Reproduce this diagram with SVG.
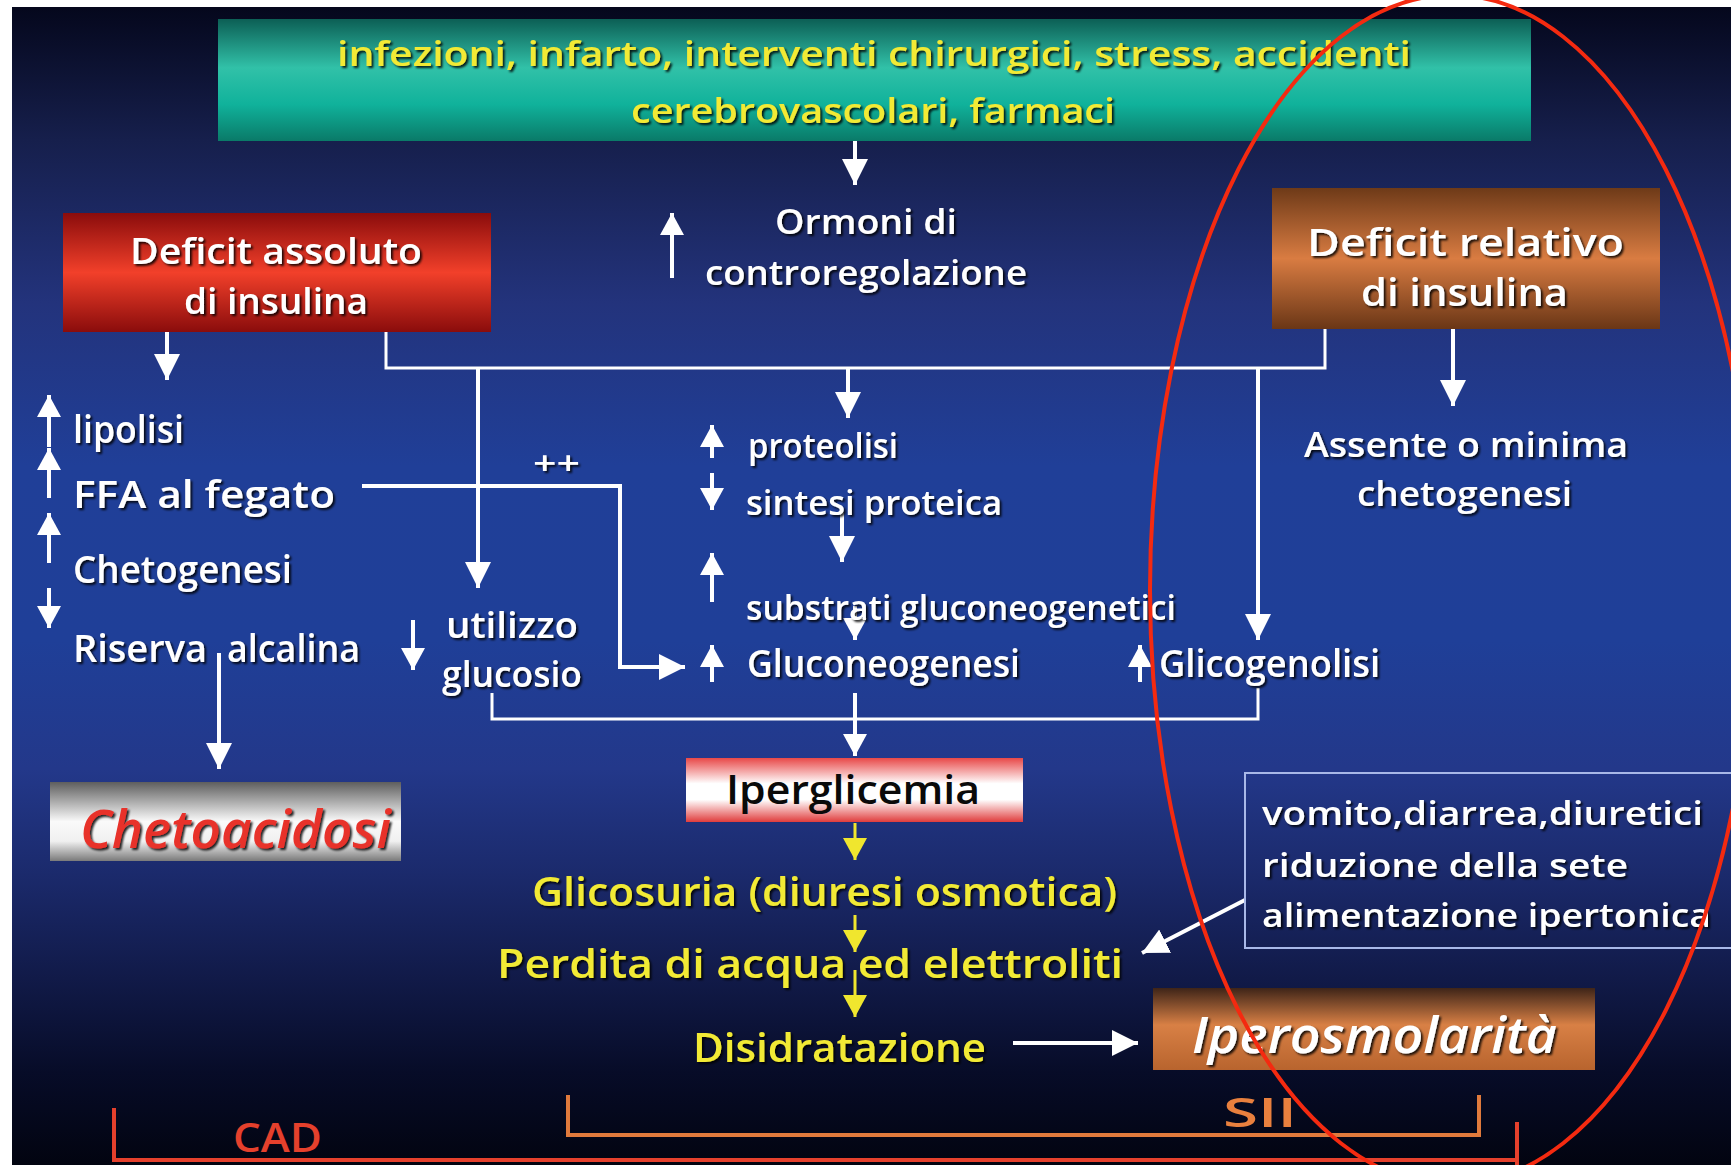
<svg xmlns="http://www.w3.org/2000/svg" width="1731" height="1165" viewBox="0 0 1731 1165">
<defs>
<linearGradient id="bg" x1="0" y1="0" x2="0" y2="1">
<stop offset="0" stop-color="#04061a"/>
<stop offset="0.12" stop-color="#161f4c"/>
<stop offset="0.26" stop-color="#23337c"/>
<stop offset="0.40" stop-color="#203f98"/>
<stop offset="0.55" stop-color="#1f3f98"/>
<stop offset="0.66" stop-color="#23388a"/>
<stop offset="0.75" stop-color="#1b2a6c"/>
<stop offset="0.84" stop-color="#111a48"/>
<stop offset="0.92" stop-color="#070c28"/>
<stop offset="1" stop-color="#020410"/>
</linearGradient>
<linearGradient id="gTeal" x1="0" y1="0" x2="0" y2="1">
<stop offset="0" stop-color="#0c5f55"/>
<stop offset="0.4" stop-color="#31c1a8"/>
<stop offset="0.7" stop-color="#10b29b"/>
<stop offset="1" stop-color="#0a7a68"/>
</linearGradient>
<linearGradient id="gRed" x1="0" y1="0" x2="0" y2="1">
<stop offset="0" stop-color="#8a0c0c"/>
<stop offset="0.5" stop-color="#f2402a"/>
<stop offset="1" stop-color="#8a0c0c"/>
</linearGradient>
<linearGradient id="gBrown" x1="0" y1="0" x2="0" y2="1">
<stop offset="0" stop-color="#6e3a18"/>
<stop offset="0.5" stop-color="#d97c42"/>
<stop offset="1" stop-color="#6a3616"/>
</linearGradient>
<linearGradient id="gGrey" x1="0" y1="0" x2="0" y2="1">
<stop offset="0" stop-color="#5e5e5e"/>
<stop offset="0.5" stop-color="#fafafa"/>
<stop offset="0.75" stop-color="#f0f0f0"/>
<stop offset="1" stop-color="#7a7a7a"/>
</linearGradient>
<linearGradient id="gPink" x1="0" y1="0" x2="0" y2="1">
<stop offset="0" stop-color="#e84848"/>
<stop offset="0.4" stop-color="#ffffff"/>
<stop offset="0.65" stop-color="#ffffff"/>
<stop offset="1" stop-color="#e03c3c"/>
</linearGradient>
<linearGradient id="gOrange" x1="0" y1="0" x2="0" y2="1">
<stop offset="0" stop-color="#3e2418"/>
<stop offset="0.45" stop-color="#d88045"/>
<stop offset="1" stop-color="#b8642e"/>
</linearGradient>
<filter id="sh" x="-5%" y="-20%" width="110%" height="140%">
<feDropShadow dx="2" dy="2" stdDeviation="1" flood-color="#000" flood-opacity="0.85"/>
</filter>
<marker id="aw" markerUnits="userSpaceOnUse" markerWidth="26" markerHeight="26" viewBox="0 0 26 26" refX="26" refY="13" orient="auto">
<path d="M0,0 L26,13 L0,26 Z" fill="#ffffff"/>
</marker>
<marker id="as" markerUnits="userSpaceOnUse" markerWidth="22" markerHeight="24" viewBox="0 0 22 24" refX="22" refY="12" orient="auto">
<path d="M0,0 L22,12 L0,24 Z" fill="#ffffff"/>
</marker>
<marker id="ay" markerUnits="userSpaceOnUse" markerWidth="22" markerHeight="24" viewBox="0 0 22 24" refX="22" refY="12" orient="auto">
<path d="M0,0 L22,12 L0,24 Z" fill="#f0e62e"/>
</marker>
<style>
text{font-family:"Open Sans","Liberation Sans",sans-serif;font-weight:600;}
.w{fill:#ffffff;filter:url(#sh);}
.y{fill:#f2ea34;filter:url(#sh);}
.ln{fill:none;stroke:#ffffff;stroke-width:3;}
.ar{fill:none;stroke:#ffffff;stroke-width:4;marker-end:url(#aw);}
.sa{fill:none;stroke:#ffffff;stroke-width:4;marker-end:url(#as);}
.ya{fill:none;stroke:#f0e62e;stroke-width:3;marker-end:url(#ay);}
</style>
</defs>
<rect x="0" y="0" width="1731" height="1165" fill="url(#bg)"/>
<rect x="0" y="0" width="1731" height="7" fill="#ffffff"/>
<rect x="0" y="0" width="12" height="1165" fill="#ffffff"/>

<g id="connectors">
<line class="ar" x1="855" y1="137" x2="855" y2="185"/>
<line class="sa" x1="672" y1="278" x2="672" y2="213"/>
<line class="ar" x1="167" y1="320" x2="167" y2="380"/>
<polyline class="ln" points="386,320 386,368 1325,368 1325,329"/>
<line class="ar" x1="478" y1="368" x2="478" y2="588"/>
<line class="ar" x1="848" y1="368" x2="848" y2="418"/>
<line class="ar" x1="1258" y1="368" x2="1258" y2="640"/>
<line class="ar" x1="1453" y1="329" x2="1453" y2="406"/>
<line class="sa" x1="49" y1="447" x2="49" y2="395"/>
<line class="sa" x1="49" y1="498" x2="49" y2="448"/>
<line class="sa" x1="49" y1="563" x2="49" y2="513"/>
<line class="sa" x1="49" y1="588" x2="49" y2="628"/>
<line class="ar" x1="219" y1="653" x2="219" y2="769"/>
<polyline class="ar" points="362,486 620,486 620,667 685,667"/>
<line class="sa" x1="413" y1="620" x2="413" y2="670"/>
<line class="sa" x1="712" y1="458" x2="712" y2="425"/>
<line class="sa" x1="712" y1="473" x2="712" y2="510"/>
<line class="sa" x1="712" y1="602" x2="712" y2="553"/>
<line class="sa" x1="712" y1="682" x2="712" y2="645"/>
<line class="ar" x1="842" y1="512" x2="842" y2="562"/>
<line class="sa" x1="855" y1="606" x2="855" y2="640"/>
<line class="sa" x1="1140" y1="682" x2="1140" y2="645"/>
<polyline class="ln" points="492,693 492,719 1258,719 1258,688"/>
<line class="sa" x1="855" y1="693" x2="855" y2="756"/>
<line class="ya" x1="855" y1="823" x2="855" y2="860"/>
<line class="ya" x1="855" y1="915" x2="855" y2="952"/>
<line class="ya" x1="855" y1="970" x2="855" y2="1017"/>
<line class="ar" x1="1245" y1="900" x2="1142" y2="953"/>
<line class="ar" x1="1013" y1="1043" x2="1138" y2="1043"/>
<polyline fill="none" stroke="#e5402c" stroke-width="4" points="114,1108 114,1160 1517,1160"/>
<line stroke="#e5402c" stroke-width="4" x1="1517" y1="1122" x2="1517" y2="1165"/>
<polyline fill="none" stroke="#e07a3c" stroke-width="4" points="568,1095 568,1135 1479,1135 1479,1095"/>
</g>

<g id="cause">
<rect x="218" y="19" width="1313" height="122" fill="url(#gTeal)"/>
<text class="y" x="337" y="66" font-size="35" textLength="1074" lengthAdjust="spacingAndGlyphs">infezioni, infarto, interventi chirurgici, stress, accidenti</text>
<text class="y" x="631" y="123" font-size="35" textLength="484" lengthAdjust="spacingAndGlyphs">cerebrovascolari, farmaci</text>
</g>

<g id="ormoni">
<text class="w" x="775" y="234" font-size="34" textLength="182" lengthAdjust="spacingAndGlyphs">Ormoni di</text>
<text class="w" x="705" y="285" font-size="34" textLength="322" lengthAdjust="spacingAndGlyphs">controregolazione</text>
</g>

<g id="deficit-assoluto">
<rect x="63" y="213" width="428" height="119" fill="url(#gRed)"/>
<text class="w" x="130" y="264" font-size="36" textLength="292" lengthAdjust="spacingAndGlyphs">Deficit assoluto</text>
<text class="w" x="184" y="314" font-size="36" textLength="184" lengthAdjust="spacingAndGlyphs">di insulina</text>
</g>

<g id="deficit-relativo">
<rect x="1272" y="188" width="388" height="141" fill="url(#gBrown)"/>
<text class="w" x="1307" y="256" font-size="37" textLength="317" lengthAdjust="spacingAndGlyphs">Deficit relativo</text>
<text class="w" x="1361" y="306" font-size="37" textLength="207" lengthAdjust="spacingAndGlyphs">di insulina</text>
</g>

<g id="assente">
<text class="w" x="1304" y="457" font-size="35" textLength="324" lengthAdjust="spacingAndGlyphs">Assente o minima</text>
<text class="w" x="1357" y="506" font-size="35" textLength="215" lengthAdjust="spacingAndGlyphs">chetogenesi</text>
</g>

<g id="lipolisi"><text class="w" x="73" y="443" font-size="38" textLength="111" lengthAdjust="spacingAndGlyphs">lipolisi</text></g>
<g id="ffa"><text class="w" x="73" y="508" font-size="38" textLength="262" lengthAdjust="spacingAndGlyphs">FFA al fegato</text></g>
<g id="chetogenesi"><text class="w" x="73" y="583" font-size="38" textLength="219" lengthAdjust="spacingAndGlyphs">Chetogenesi</text></g>
<g id="riserva"><text class="w" y="662" font-size="38"><tspan x="73" textLength="134" lengthAdjust="spacingAndGlyphs">Riserva</tspan> <tspan x="227" textLength="133" lengthAdjust="spacingAndGlyphs">alcalina</tspan></text></g>
<g id="plus"><text class="w" x="533" y="475" font-size="32" font-weight="bold" textLength="47" lengthAdjust="spacingAndGlyphs">++</text></g>

<g id="utilizzo">
<text class="w" x="446" y="638" font-size="36" textLength="132" lengthAdjust="spacingAndGlyphs">utilizzo</text>
<text class="w" x="442" y="687" font-size="36" textLength="140" lengthAdjust="spacingAndGlyphs">glucosio</text>
</g>

<g id="proteolisi"><text class="w" x="748" y="458" font-size="34" textLength="150" lengthAdjust="spacingAndGlyphs">proteolisi</text></g>
<g id="sintesi"><text class="w" x="746" y="515" font-size="34" textLength="256" lengthAdjust="spacingAndGlyphs">sintesi proteica</text></g>
<g id="substrati"><text class="w" x="746" y="620" font-size="34" textLength="430" lengthAdjust="spacingAndGlyphs">substrati gluconeogenetici</text></g>
<g id="gluconeogenesi"><text class="w" x="747" y="677" font-size="37" textLength="273" lengthAdjust="spacingAndGlyphs">Gluconeogenesi</text></g>
<g id="glicogenolisi"><text class="w" x="1159" y="677" font-size="37" textLength="221" lengthAdjust="spacingAndGlyphs">Glicogenolisi</text></g>

<g id="chetoacidosi">
<rect x="50" y="782" width="351" height="79" fill="url(#gGrey)"/>
<text x="80" y="848" font-size="52" font-weight="bold" font-style="italic" fill="#e8302a" filter="url(#sh)" textLength="311" lengthAdjust="spacingAndGlyphs">Chetoacidosi</text>
</g>

<g id="iperglicemia">
<rect x="686" y="758" width="337" height="64" fill="url(#gPink)"/>
<text x="726" y="804" font-size="40" font-weight="bold" fill="#0a0a0a" textLength="254" lengthAdjust="spacingAndGlyphs">Iperglicemia</text>
</g>

<g id="glicosuria"><text class="y" x="532" y="906" font-size="39" textLength="585" lengthAdjust="spacingAndGlyphs">Glicosuria (diuresi osmotica)</text></g>
<g id="perdita"><text class="y" x="497" y="978" font-size="39" textLength="626" lengthAdjust="spacingAndGlyphs">Perdita di acqua ed elettroliti</text></g>
<g id="disidratazione"><text class="y" x="693" y="1062" font-size="39" textLength="293" lengthAdjust="spacingAndGlyphs">Disidratazione</text></g>

<g id="cause-box">
<rect x="1245" y="773" width="500" height="175" fill="none" stroke="#a8b8e8" stroke-width="2"/>
<text class="w" x="1262" y="825" font-size="33" textLength="441" lengthAdjust="spacingAndGlyphs">vomito,diarrea,diuretici</text>
<text class="w" x="1262" y="877" font-size="33" textLength="366" lengthAdjust="spacingAndGlyphs">riduzione della sete</text>
<text class="w" x="1262" y="927" font-size="33" textLength="449" lengthAdjust="spacingAndGlyphs">alimentazione ipertonica</text>
</g>

<g id="iperosmolarita">
<rect x="1153" y="988" width="442" height="82" fill="url(#gOrange)"/>
<text class="w" x="1192" y="1053" font-size="50" font-weight="bold" font-style="italic" textLength="365" lengthAdjust="spacingAndGlyphs">Iperosmolarità</text>
</g>

<g id="labels">
<text x="1223" y="1127" font-size="40" font-weight="bold" fill="#e9803e" textLength="74" lengthAdjust="spacingAndGlyphs">SII</text>
<text x="233" y="1152" font-size="40" fill="#e5402c" textLength="89" lengthAdjust="spacingAndGlyphs">CAD</text>
</g>

<g id="highlight">
<ellipse cx="1452" cy="590" rx="302" ry="595" fill="none" stroke="#f42a10" stroke-width="4"/>
</g>
</svg>
